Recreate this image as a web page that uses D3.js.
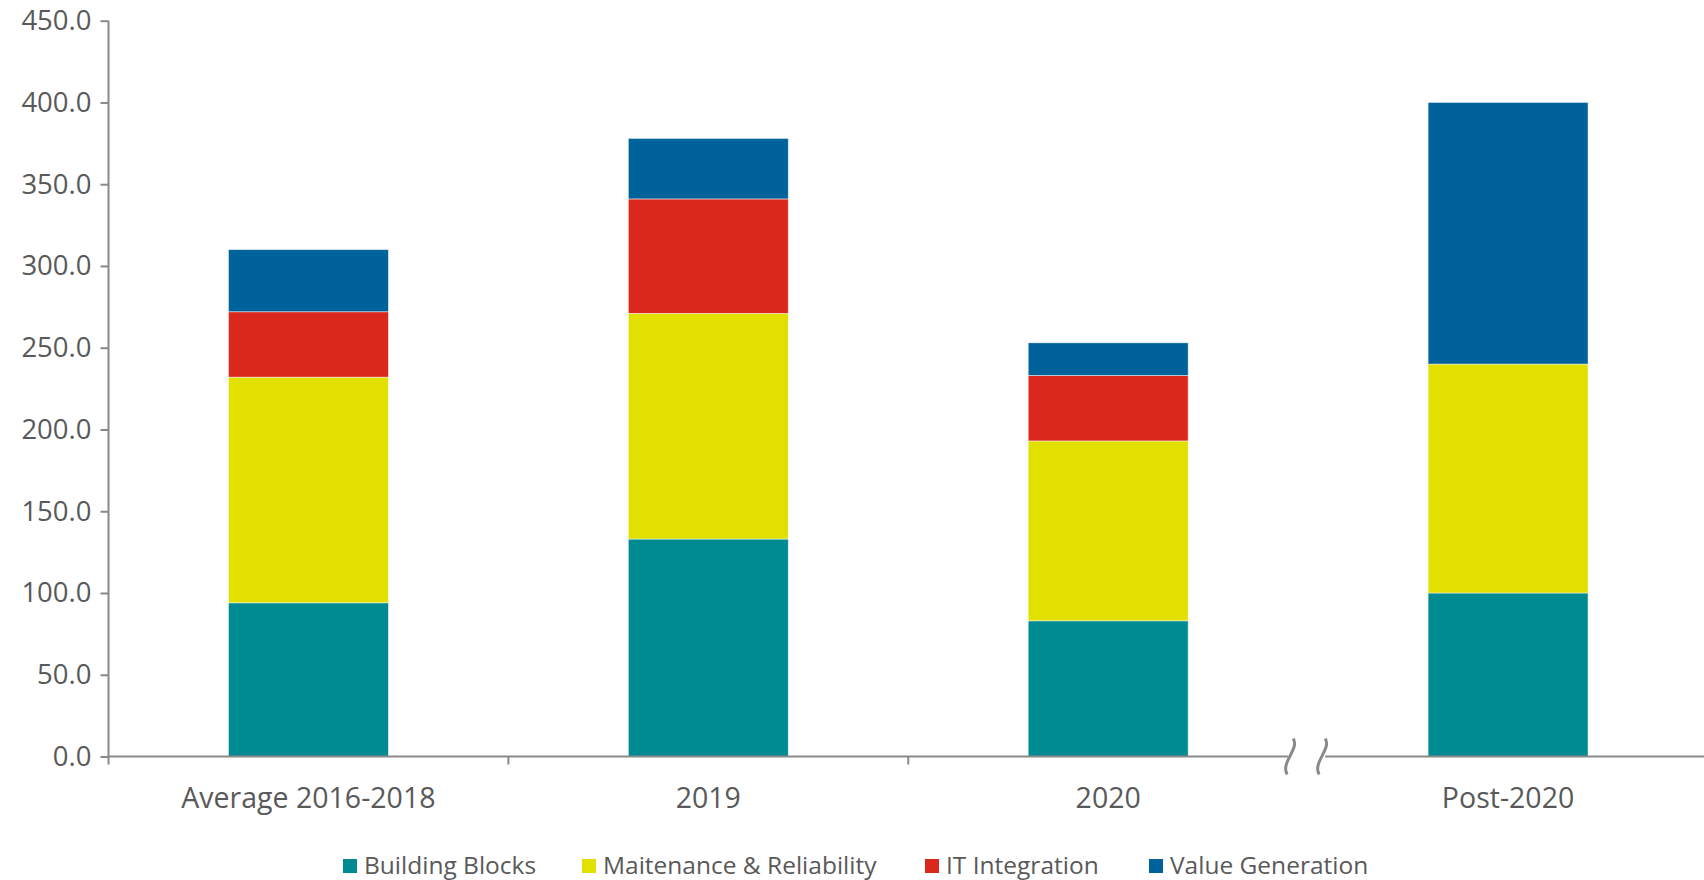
<!DOCTYPE html>
<html>
<head>
<meta charset="utf-8">
<script src="https://cdn.jsdelivr.net/npm/d3@7"></script>
<style>
  body { margin: 0; background: #fff; }
  text { font-family: "Open Sans", "Noto Sans", sans-serif; fill: #595959; }
</style>
</head>
<body>
<script>
var categories = ["Average 2016-2018", "2019", "2020", "Post-2020"];
var seriesNames = ["Building Blocks", "Maitenance & Reliability", "IT Integration", "Value Generation"];
var buildingBlocks = [94, 133, 83, 100];
var maintenance = [138, 138, 110, 140];
var itIntegration = [40, 70, 40, 0];
var valueGeneration = [38, 37, 20, 160];
var yTicks = [0, 50, 100, 150, 200, 250, 300, 350, 400, 450];
var colors = ["#008b92", "#e1e000", "#da291c", "#00629b"];

var width = 1704, height = 880;
var margin = {top: 20.7, left: 108.5, right: -4, bottom: 123.5};

var rows = categories.map(function(c, i) {
  return {cat: c, "Building Blocks": buildingBlocks[i], "Maitenance & Reliability": maintenance[i],
          "IT Integration": itIntegration[i], "Value Generation": valueGeneration[i]};
});

var svg = d3.select("body").append("svg")
    .attr("width", width)
    .attr("height", height);

var xScale = d3.scaleBand().domain(categories)
    .range([margin.left, width - margin.right]).paddingInner(0.6).paddingOuter(0.3);
var yScale = d3.scaleLinear().domain([0, 450]).range([height - margin.bottom, margin.top]);

var layers = d3.stack().keys(seriesNames)(rows);

var g = svg.append("g");
layers.forEach(function(layer, li) {
  g.selectAll(".s" + li)
    .data(layer.filter(function(d) { return d[1] - d[0] > 0; }))
    .enter().append("rect")
      .attr("x", function(d) { return xScale(d.data.cat); })
      .attr("y", function(d) { return yScale(d[1]); })
      .attr("width", xScale.bandwidth())
      .attr("height", function(d) { return yScale(d[0]) - yScale(d[1]); })
      .attr("fill", colors[li])
      .attr("stroke", "#ffffff")
      .attr("stroke-opacity", 0.6)
      .attr("stroke-width", 0.8);
});

var axisColor = "#898989";
var y0 = yScale(0);

// y axis
var yAxis = svg.append("g")
    .attr("transform", "translate(" + margin.left + ",0)")
    .call(d3.axisLeft(yScale).tickValues(yTicks).tickFormat(d3.format(".1f")).tickSize(8).tickPadding(9));
yAxis.select(".domain").remove();
yAxis.selectAll("line").attr("stroke", axisColor).attr("stroke-width", 2);
yAxis.selectAll("text").attr("font-size", "27.5px").attr("fill", "#595959");
svg.append("line")
    .attr("x1", margin.left).attr("x2", margin.left)
    .attr("y1", yScale(450)).attr("y2", y0 + 8)
    .attr("stroke", axisColor).attr("stroke-width", 2);

// x axis, broken between 2020 and Post-2020
var groupW = (width - margin.right - margin.left) / 4;
var breakX = margin.left + 3 * groupW;
svg.append("line")
    .attr("x1", margin.left).attr("x2", breakX - 20)
    .attr("y1", y0).attr("y2", y0)
    .attr("stroke", axisColor).attr("stroke-width", 2);
svg.append("line")
    .attr("x1", breakX + 17).attr("x2", width)
    .attr("y1", y0).attr("y2", y0)
    .attr("stroke", axisColor).attr("stroke-width", 2);

[1, 2].forEach(function(i) {
  var tx = margin.left + i * groupW;
  svg.append("line")
    .attr("x1", tx).attr("x2", tx).attr("y1", y0).attr("y2", y0 + 8)
    .attr("stroke", axisColor).attr("stroke-width", 2);
});

[breakX - 18, breakX + 14].forEach(function(cx) {
  svg.append("path")
    .attr("d", "M" + (cx + 3) + "," + (y0 - 18) + " C" + (cx + 10) + "," + (y0 - 8) + " " +
          (cx - 10) + "," + (y0 + 6) + " " + (cx - 3) + "," + (y0 + 18))
    .attr("fill", "none")
    .attr("stroke", axisColor)
    .attr("stroke-width", 3);
});

svg.selectAll(".cat")
  .data(categories)
  .enter().append("text")
    .attr("x", function(d) { return xScale(d) + xScale.bandwidth() / 2; })
    .attr("y", 808)
    .attr("text-anchor", "middle")
    .attr("font-size", "28.5px")
    .text(function(d) { return d; });

// legend
var legendX = [343, 582, 925, 1149];
var legend = svg.selectAll(".legend")
  .data(seriesNames)
  .enter().append("g")
    .attr("transform", function(d, i) { return "translate(" + legendX[i] + ",859)"; });
legend.append("rect")
    .attr("width", 14).attr("height", 14)
    .attr("fill", function(d, i) { return colors[i]; });
legend.append("text")
    .attr("x", 21).attr("y", 15)
    .attr("font-size", "24.5px")
    .text(function(d) { return d; });
</script>
</body>
</html>
